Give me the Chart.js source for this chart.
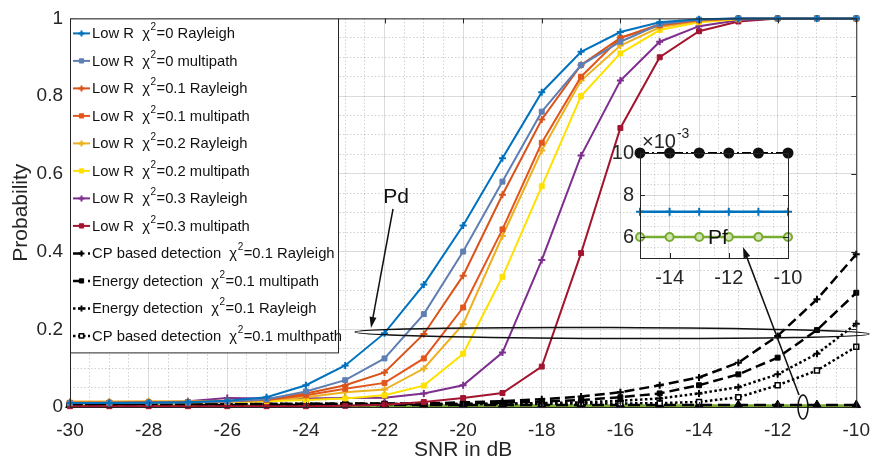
<!DOCTYPE html>
<html>
<head>
<meta charset="utf-8">
<script src="https://cdn.jsdelivr.net/npm/chart.js@4.4.0/dist/chart.umd.min.js"></script>
<style>
  html, body { margin: 0; padding: 0; background: #fff; }
  #wrap { position: relative; width: 882px; height: 468px; }
  #wrap canvas { position: absolute; left: 0; top: 0; }
</style>
</head>
<body>
<div id="wrap">
  <canvas id="mainChart" width="882" height="468"></canvas>
  <canvas id="insetChart" width="882" height="468"></canvas>
</div>
<script>
// SNR axis (dB)
const snr = [-30, -29, -28, -27, -26, -25, -24, -23, -22, -21, -20, -19, -18, -17, -16, -15, -14, -13, -12, -11, -10];

// Pd curves, low R
const pdR0  = [0.010, 0.010, 0.011, 0.012, 0.016, 0.025, 0.056, 0.107, 0.190, 0.315, 0.467, 0.640, 0.810, 0.914, 0.965, 0.990, 0.998, 1, 1, 1, 1];
const pdM0  = [0.010, 0.011, 0.011, 0.012, 0.014, 0.020, 0.040, 0.069, 0.125, 0.239, 0.400, 0.580, 0.760, 0.880, 0.940, 0.985, 0.997, 1, 1, 1, 1];
const pdR01 = [0.011, 0.011, 0.012, 0.013, 0.015, 0.020, 0.035, 0.056, 0.089, 0.188, 0.338, 0.546, 0.740, 0.880, 0.950, 0.985, 0.996, 1, 1, 1, 1];
const pdM01 = [0.011, 0.011, 0.012, 0.013, 0.014, 0.018, 0.030, 0.047, 0.062, 0.125, 0.256, 0.457, 0.680, 0.850, 0.950, 0.982, 0.995, 1, 1, 1, 1];
const pdR02 = [0.014, 0.014, 0.015, 0.015, 0.016, 0.018, 0.025, 0.038, 0.045, 0.099, 0.213, 0.440, 0.660, 0.840, 0.930, 0.977, 0.993, 0.999, 1, 1, 1];
const pdM02 = [0.011, 0.011, 0.012, 0.012, 0.013, 0.015, 0.018, 0.022, 0.030, 0.055, 0.137, 0.335, 0.568, 0.800, 0.910, 0.970, 0.990, 0.998, 1, 1, 1];
const pdR03 = [0.010, 0.010, 0.011, 0.015, 0.023, 0.022, 0.022, 0.023, 0.024, 0.035, 0.056, 0.140, 0.378, 0.647, 0.840, 0.940, 0.980, 0.995, 1, 1, 1];
const pdM03 = [0.002, 0.002, 0.002, 0.002, 0.002, 0.002, 0.002, 0.003, 0.006, 0.013, 0.023, 0.036, 0.104, 0.396, 0.718, 0.900, 0.967, 0.992, 1, 1, 1];

// CP based / energy detection curves
const cpRay   = [0.008, 0.008, 0.008, 0.008, 0.008, 0.008, 0.008, 0.009, 0.009, 0.009, 0.012, 0.015, 0.020, 0.027, 0.038, 0.056, 0.076, 0.114, 0.183, 0.277, 0.393];
const enMulti = [0.008, 0.008, 0.008, 0.008, 0.008, 0.008, 0.008, 0.008, 0.008, 0.009, 0.010, 0.011, 0.014, 0.018, 0.025, 0.035, 0.056, 0.084, 0.127, 0.198, 0.294];
const enRay   = [0.008, 0.008, 0.008, 0.008, 0.008, 0.008, 0.008, 0.008, 0.008, 0.008, 0.008, 0.009, 0.010, 0.012, 0.016, 0.022, 0.035, 0.051, 0.084, 0.137, 0.214];
const cpMulti = [0.008, 0.008, 0.008, 0.008, 0.008, 0.008, 0.008, 0.008, 0.008, 0.008, 0.008, 0.008, 0.008, 0.009, 0.009, 0.010, 0.013, 0.025, 0.056, 0.094, 0.155];

// Pf curves near zero
const pfTri   = [0.005, 0.005, 0.005, 0.005, 0.005, 0.005, 0.005, 0.005, 0.005, 0.005, 0.005, 0.005, 0.005, 0.005, 0.005, 0.005, 0.005, 0.005, 0.005, 0.005, 0.005];
const pfGreen = [0.003, 0.003, 0.003, 0.003, 0.003, 0.003, 0.003, 0.003, 0.003, 0.003, 0.003, 0.003, 0.003, 0.003, 0.003, 0.003, 0.003, 0.003, 0.003, 0.003, 0.003];

// Inset (x 1e-3)
const insetSnr = [-15, -14, -13, -12, -11, -10];
const insetBlack = [0.010, 0.010, 0.010, 0.010, 0.010, 0.010];
const insetBlue  = [0.0072, 0.0072, 0.0072, 0.0072, 0.0072, 0.0072];
const insetGreen = [0.0060, 0.0060, 0.0060, 0.0060, 0.0060, 0.0060];

const legendLabels = [
    'Low R  \u03c7^2=0 Rayleigh',
    'Low R  \u03c7^2=0 multipath',
    'Low R  \u03c7^2=0.1 Rayleigh',
    'Low R  \u03c7^2=0.1 multipath',
    'Low R  \u03c7^2=0.2 Rayleigh',
    'Low R  \u03c7^2=0.2 multipath',
    'Low R  \u03c7^2=0.3 Rayleigh',
    'Low R  \u03c7^2=0.3 multipath',
    'CP based detection  \u03c7^2=0.1 Rayleigh',
    'Energy detection  \u03c7^2=0.1 multipath',
    'Energy detection  \u03c7^2=0.1 Rayleigh',
    'CP based detection  \u03c7^2=0.1 multhpath'
];

const FONT = "'Liberation Sans', Arial, sans-serif";
const TXT = '#262626';

function pts(xs, ys) {
    return xs.map((x, i) => ({ x: x, y: ys[i] }));
}

function series(label, ys, color, style, extra) {
    return Object.assign({
        label: label,
        data: pts(snr, ys),
        borderColor: color,
        backgroundColor: color,
        pointBackgroundColor: color,
        pointBorderColor: color,
        borderWidth: 2,
        pointStyle: style,
        pointRadius: style === 'rect' ? 3.5 : 3.5,
        pointBorderWidth: style === 'cross' ? 2 : 1,
        tension: 0,
        fill: false,
        clip: false
    }, extra || {});
}

const datasets = [
    series(legendLabels[0], pdR0, '#0072BD', 'cross'),
    series(legendLabels[1], pdM0, '#5F7FB3', 'rect'),
    series(legendLabels[2], pdR01, '#D95319', 'cross'),
    series(legendLabels[3], pdM01, '#E2561D', 'rect'),
    series(legendLabels[4], pdR02, '#EDB120', 'cross'),
    series(legendLabels[5], pdM02, '#FFE100', 'rect'),
    series(legendLabels[6], pdR03, '#7E2F8E', 'cross'),
    series(legendLabels[7], pdM03, '#A2142F', 'rect'),
    series(legendLabels[8], cpRay, '#000', 'cross', { borderDash: [10, 5], borderWidth: 2.5 }),
    series(legendLabels[9], enMulti, '#000', 'rect', { borderDash: [10, 5], borderWidth: 2.5 }),
    series(legendLabels[10], enRay, '#000', 'cross', { borderDash: [2.5, 2.5], borderWidth: 2.5 }),
    series(legendLabels[11], cpMulti, '#000', 'rect', { borderDash: [2.5, 2.5], borderWidth: 2.5, pointBackgroundColor: '#fff', pointBorderWidth: 1.5 }),
    series('', pfTri, '#000', 'triangle', { borderDash: [12, 6], borderWidth: 2.5, pointRadius: 5 }),
    series('', pfGreen, '#77AC30', 'circle', { borderWidth: 3, pointRadius: 0 })
];

function isMajorX(v) { return Math.abs(Math.round(v * 2)) % 4 === 0; }
function isMajorY(v) { return Math.abs(Math.round(v * 100)) % 20 === 0; }

function gridDash(major) {
    return c => (c.tick && !major(c.tick.value)) ? [1.5, 2] : [];
}

function drawArrow(ctx, x1, y1, x2, y2) {
    const a = Math.atan2(y2 - y1, x2 - x1);
    ctx.beginPath();
    ctx.moveTo(x1, y1);
    ctx.lineTo(x2 - 6 * Math.cos(a), y2 - 6 * Math.sin(a));
    ctx.stroke();
    ctx.beginPath();
    ctx.moveTo(x2, y2);
    ctx.lineTo(x2 - 11 * Math.cos(a) + 3.5 * Math.sin(a), y2 - 11 * Math.sin(a) - 3.5 * Math.cos(a));
    ctx.lineTo(x2 - 11 * Math.cos(a) - 3.5 * Math.sin(a), y2 - 11 * Math.sin(a) + 3.5 * Math.cos(a));
    ctx.closePath();
    ctx.fill();
}

// box + inward ticks, MATLAB style
function framePlugin(majorX, majorY) {
    return {
        id: 'frame',
        afterDatasetsDraw(chart) {
            const { ctx, chartArea: a, scales } = chart;
            ctx.save();
            ctx.strokeStyle = TXT;
            ctx.lineWidth = 1;
            ctx.setLineDash([]);
            ctx.strokeRect(a.left + 0.5, a.top + 0.5, a.right - a.left, a.bottom - a.top);
            ctx.beginPath();
            scales.x.ticks.forEach(t => {
                if (!majorX(t.value)) return;
                const px = Math.round(scales.x.getPixelForValue(t.value)) + 0.5;
                ctx.moveTo(px, a.top); ctx.lineTo(px, a.top + 5);
                ctx.moveTo(px, a.bottom); ctx.lineTo(px, a.bottom - 5);
            });
            scales.y.ticks.forEach(t => {
                if (!majorY(t.value)) return;
                const py = Math.round(scales.y.getPixelForValue(t.value)) + 0.5;
                ctx.moveTo(a.left, py); ctx.lineTo(a.left + 5, py);
                ctx.moveTo(a.right, py); ctx.lineTo(a.right - 5, py);
            });
            ctx.stroke();
            ctx.restore();
        }
    };
}

const legendBox = {
    id: 'legendBox',
    afterDraw(chart) {
        const ctx = chart.ctx;
        const a = chart.chartArea;
        const x0 = a.left, y0 = a.top, w = 268, h = 334;
        ctx.save();
        ctx.fillStyle = '#fff';
        ctx.fillRect(x0, y0, w, h);
        ctx.strokeStyle = TXT;
        ctx.lineWidth = 1;
        ctx.setLineDash([]);
        ctx.strokeRect(x0 + 0.5, y0 + 0.5, w, h);
        chart.data.datasets.forEach((ds, i) => {
            if (!ds.label) return;
            const y = y0 + 15 + 27.5 * i;
            ctx.strokeStyle = ds.borderColor;
            ctx.lineWidth = ds.borderWidth;
            ctx.setLineDash(ds.borderDash || []);
            ctx.beginPath();
            ctx.moveTo(x0 + 3, y);
            ctx.lineTo(x0 + 20, y);
            ctx.stroke();
            ctx.setLineDash([]);
            ctx.fillStyle = ds.pointBackgroundColor;
            ctx.strokeStyle = ds.pointBorderColor;
            ctx.lineWidth = ds.pointBorderWidth;
            Chart.helpers.drawPoint(ctx, { pointStyle: ds.pointStyle, radius: 3, borderWidth: ds.pointBorderWidth, rotation: 0 }, x0 + 11.5, y);
            const parts = ds.label.split('^2');
            ctx.fillStyle = '#111';
            ctx.textBaseline = 'middle';
            ctx.textAlign = 'left';
            ctx.font = '14.8px ' + FONT;
            let tx = x0 + 22;
            ctx.fillText(parts[0], tx, y + 1);
            tx += ctx.measureText(parts[0]).width;
            ctx.font = '10px ' + FONT;
            ctx.fillText('2', tx + 0.5, y - 6);
            tx += ctx.measureText('2').width + 1;
            ctx.font = '14.8px ' + FONT;
            ctx.fillText(parts[1], tx, y + 1);
        });
        ctx.restore();
    }
};

new Chart(document.getElementById('mainChart'), {
    type: 'line',
    data: { datasets: datasets },
    options: {
        responsive: false,
        animation: false,
        events: [],
        layout: { padding: { top: 13, right: 15, left: 0, bottom: 0 }, autoPadding: false },
        plugins: { legend: { display: false }, tooltip: { enabled: false } },
        scales: {
            x: {
                type: 'linear', min: -30, max: -10,
                afterFit: s => { s.height = 61; },
                ticks: {
                    stepSize: 0.5, autoSkip: false, maxRotation: 0, padding: 12,
                    font: { size: 19, family: FONT }, color: TXT,
                    callback: v => isMajorX(v) ? String(Math.round(v)) : ''
                },
                grid: {
                    drawTicks: false,
                    color: c => (c.tick && isMajorX(c.tick.value)) ? 'rgba(0,0,0,0.14)' : 'rgba(0,0,0,0.18)'
                },
                border: { display: false, dash: gridDash(isMajorX) },
                title: { display: true, text: 'SNR in dB', font: { size: 21, family: FONT }, color: TXT, padding: { top: 0, bottom: 5 } }
            },
            y: {
                min: 0, max: 1,
                afterFit: s => { s.width = 70; },
                ticks: {
                    stepSize: 0.05, autoSkip: false, padding: 7,
                    font: { size: 19, family: FONT }, color: TXT,
                    callback: v => isMajorY(v) ? String(Math.round(v * 10) / 10) : ''
                },
                grid: {
                    drawTicks: false,
                    color: c => (c.tick && isMajorY(c.tick.value)) ? 'rgba(0,0,0,0.14)' : 'rgba(0,0,0,0.18)'
                },
                border: { display: false, dash: gridDash(isMajorY) },
                title: { display: true, text: 'Probability', font: { size: 21, family: FONT }, color: TXT, padding: { top: 9, bottom: 0 } }
            }
        }
    },
    plugins: [framePlugin(isMajorX, isMajorY), legendBox]
});

// inset + annotations on the top layer
function isMajorInY(v) { return Math.abs(Math.round(v * 1e4)) % 20 === 0; }

const insetDecor = {
    id: 'insetDecor',
    beforeDraw(chart) {
        const { ctx, chartArea: a } = chart;
        ctx.save();
        ctx.fillStyle = '#fff';
        ctx.fillRect(a.left, a.top, a.right - a.left, a.bottom - a.top);
        ctx.restore();
    },
    afterDraw(chart) {
        const { ctx, chartArea: a } = chart;
        ctx.save();
        ctx.fillStyle = TXT;
        ctx.textBaseline = 'alphabetic';
        ctx.font = '20px ' + FONT;
        ctx.fillText('\u00d710', a.left + 2, a.top - 5);
        const w = ctx.measureText('\u00d710').width;
        ctx.font = '14px ' + FONT;
        ctx.fillText('-3', a.left + 3 + w, a.top - 15);

        // Pf label and arrow
        ctx.fillStyle = '#111';
        ctx.font = '21px ' + FONT;
        ctx.textAlign = 'center';
        ctx.textBaseline = 'middle';
        ctx.fillText('Pf', 718, 238);
        ctx.strokeStyle = '#111';
        ctx.lineWidth = 1.5;
        drawArrow(ctx, 799, 395, 743, 247);
        ctx.beginPath();
        ctx.ellipse(803, 407, 5, 12, 0, 0, Math.PI * 2);
        ctx.stroke();

        // Pd label, arrow and ellipse
        ctx.fillText('Pd', 396, 197);
        drawArrow(ctx, 393, 209, 371, 328);
        ctx.beginPath();
        ctx.ellipse(612, 333, 257, 5.5, 0.004, 0, Math.PI * 2);
        ctx.stroke();
        ctx.restore();
    }
};

new Chart(document.getElementById('insetChart'), {
    type: 'line',
    data: {
        datasets: [
            { data: pts(insetSnr, insetBlack), borderColor: '#000', borderWidth: 2, borderDash: [9, 3, 2, 3], pointStyle: 'circle', pointRadius: 4.5, pointBackgroundColor: '#111', pointBorderColor: '#111', tension: 0, clip: false },
            { data: pts(insetSnr, insetBlue), borderColor: '#0072BD', borderWidth: 2.5, pointStyle: 'cross', pointRadius: 4, pointBorderWidth: 2, pointBorderColor: '#0072BD', tension: 0, clip: false },
            { data: pts(insetSnr, insetGreen), borderColor: '#77AC30', borderWidth: 2.5, pointStyle: 'circle', pointRadius: 4, pointBorderWidth: 2, pointBorderColor: '#77AC30', pointBackgroundColor: '#CFE3B3', tension: 0, clip: false }
        ]
    },
    options: {
        responsive: false,
        animation: false,
        events: [],
        layout: { padding: { top: 153, right: 94, left: 600, bottom: 180 }, autoPadding: false },
        plugins: { legend: { display: false }, tooltip: { enabled: false } },
        scales: {
            x: {
                type: 'linear', min: -15, max: -10,
                afterFit: s => { s.height = 30; },
                ticks: {
                    stepSize: 0.5, autoSkip: false, maxRotation: 0, padding: 8,
                    font: { size: 20, family: FONT }, color: TXT,
                    callback: v => isMajorX(v) ? String(Math.round(v)) : ''
                },
                grid: { drawTicks: false, color: 'rgba(0,0,0,0.15)' },
                border: { display: false, dash: gridDash(isMajorX) }
            },
            y: {
                min: 0.005, max: 0.01,
                afterFit: s => { s.width = 40; },
                ticks: {
                    stepSize: 0.0005, autoSkip: false, padding: 6,
                    font: { size: 20, family: FONT }, color: TXT,
                    callback: v => isMajorInY(v) ? String(Math.round(v * 1000)) : ''
                },
                grid: { drawTicks: false, color: 'rgba(0,0,0,0.15)' },
                border: { display: false, dash: gridDash(isMajorInY) }
            }
        }
    },
    plugins: [insetDecor, framePlugin(isMajorX, isMajorInY)]
});
</script>
</body>
</html>
